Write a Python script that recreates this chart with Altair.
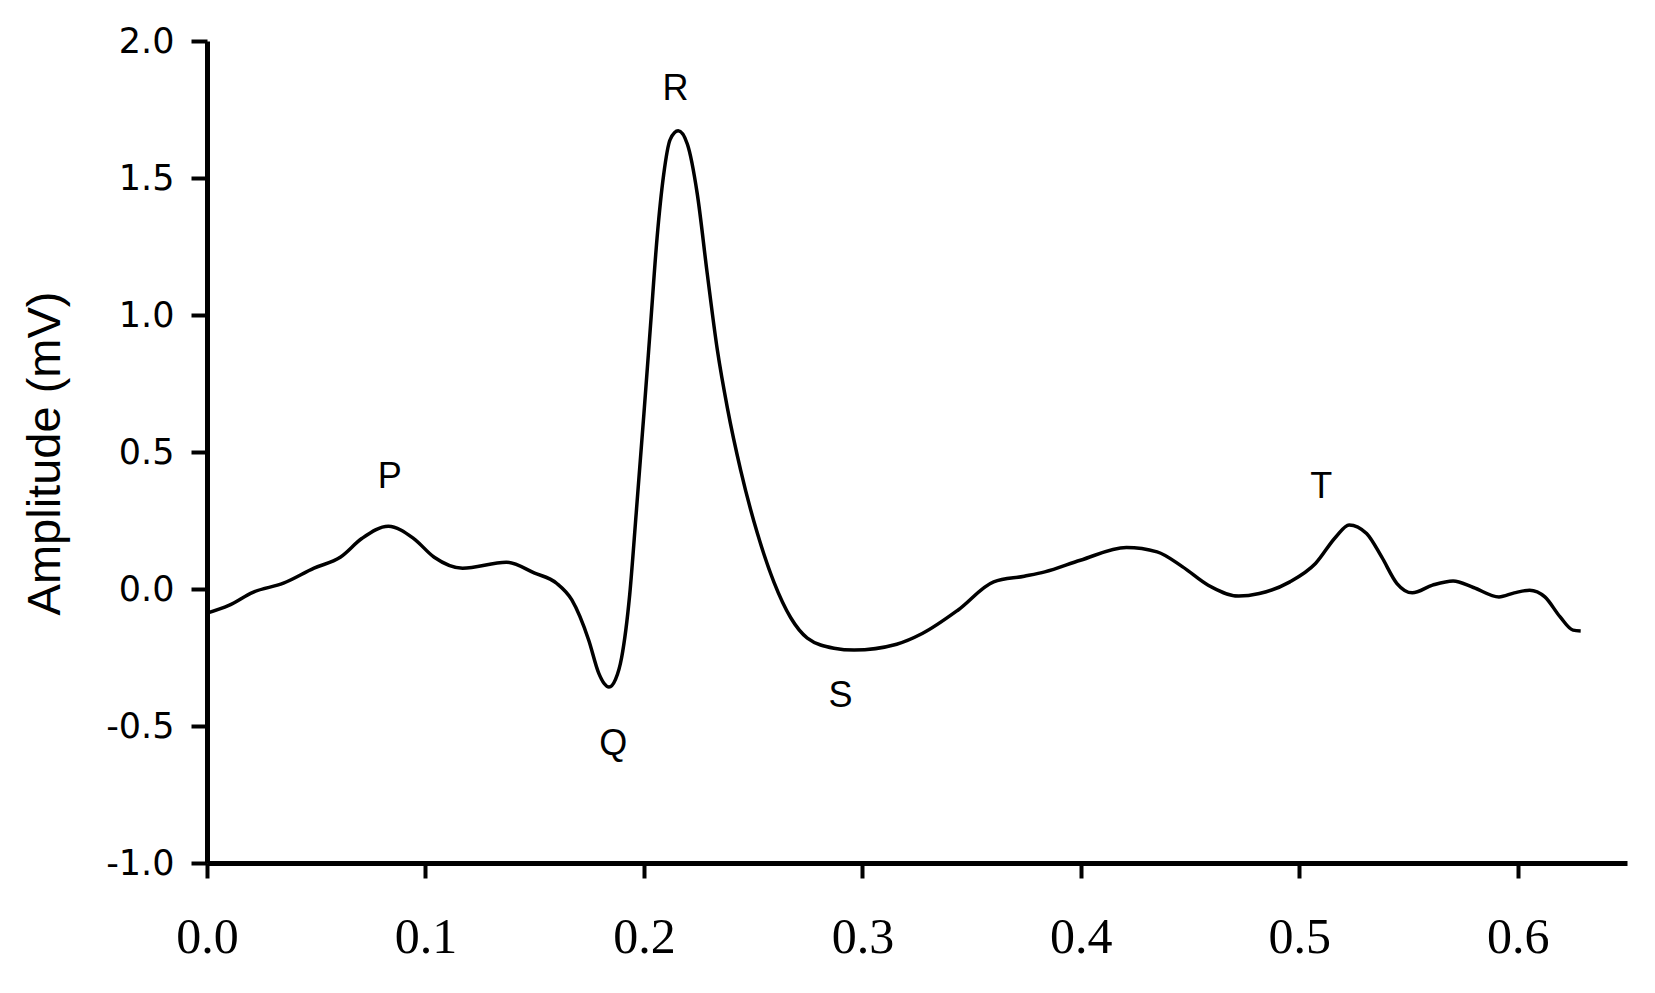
import altair as alt
import pandas as pd

# ECG trace (time in s, amplitude in mV)
time_s = [0.000, 0.010, 0.021, 0.035, 0.049, 0.061, 0.071, 0.083, 0.0945, 0.104,
          0.117, 0.137, 0.150, 0.160, 0.167, 0.1747, 0.1793, 0.1818, 0.184, 0.187,
          0.1898, 0.1935, 0.1965, 0.2000, 0.2030, 0.2060, 0.2090, 0.2120, 0.2157, 0.2199,
          0.2244, 0.2290, 0.2336, 0.2382, 0.2443, 0.2519, 0.2595, 0.2672, 0.2748, 0.2870,
          0.2962, 0.3157, 0.3274, 0.3437, 0.3601, 0.3741, 0.3835, 0.3998, 0.4209, 0.4349,
          0.4466, 0.4583, 0.4723, 0.4817, 0.4957, 0.5074, 0.5167, 0.5228, 0.5308, 0.5377,
          0.5447, 0.5517, 0.5610, 0.5704, 0.5797, 0.5914, 0.5984, 0.6054, 0.6124, 0.6194,
          0.6253, 0.6288]
amplitude = [-0.088, -0.060, -0.012, 0.021, 0.076, 0.116, 0.185, 0.229, 0.185, 0.116,
             0.076, 0.098, 0.058, 0.021, -0.040, -0.186, -0.307, -0.345, -0.358, -0.330,
             -0.250, -0.020, 0.280, 0.640, 0.960, 1.280, 1.510, 1.640, 1.672, 1.623,
             1.443, 1.150, 0.873, 0.661, 0.433, 0.204, 0.025, -0.105, -0.179, -0.216,
             -0.223, -0.2015, -0.1626, -0.0774, 0.026, 0.0467, 0.0625, 0.105, 0.1515, 0.1355,
             0.0808, 0.014, -0.026, -0.0166, 0.026, 0.093, 0.190, 0.234, 0.2025, 0.117,
             0.020, -0.014, 0.014, 0.0296, 0.0055, -0.0288, -0.014, -0.0044, -0.0288, -0.102,
             -0.150, -0.153]

# Wave labels
wave_names = ["P", "Q", "R", "S", "T"]
wave_x = [0.0837, 0.186, 0.2145, 0.290, 0.510]
wave_y = [0.408, -0.564, 1.826, -0.391, 0.373]

x_ticks = [0.0, 0.1, 0.2, 0.3, 0.4, 0.5, 0.6]
y_ticks = [-1.0, -0.5, 0.0, 0.5, 1.0, 1.5, 2.0]

ecg = pd.DataFrame({"t": time_s, "mv": amplitude})
waves = pd.DataFrame({"t": wave_x, "mv": wave_y, "name": wave_names})

x_scale = alt.Scale(domain=[0, 0.65], nice=False, zero=False)
y_scale = alt.Scale(domain=[-1, 2], nice=False, zero=False)

x_axis = alt.Axis(
    values=x_ticks, format=".1f", title=None, grid=False,
    labelFont="Liberation Serif", labelFontSize=50, labelColor="black",
    labelPadding=34, tickSize=15, tickWidth=4, tickColor="black",
    domainColor="black", domainWidth=5, labelFlush=False,
)
y_axis = alt.Axis(
    values=y_ticks, title="Amplitude (mV)", grid=False,
    labelExpr="replace(format(datum.value, '.1f'), '\u2212', '-')",
    labelFont="DejaVu Sans", labelFontSize=35, labelColor="black",
    labelPadding=17, tickSize=16, tickWidth=4, tickColor="black",
    domainColor="black", domainWidth=5, labelFlush=False,
    titleFont="Liberation Sans", titleFontSize=47, titleFontWeight="normal",
    titleColor="black", titleAngle=-90, titleBaseline="alphabetic",
    titleAlign="center", titleX=-148, titleY=412,
)

line = alt.Chart(ecg).mark_line(
    color="black", strokeWidth=3.5, interpolate="monotone"
).encode(
    x=alt.X("t:Q", scale=x_scale, axis=x_axis),
    y=alt.Y("mv:Q", scale=y_scale, axis=y_axis),
)

labels = alt.Chart(waves).mark_text(
    font="Liberation Sans", fontSize=36, color="black",
    align="center", baseline="middle",
).encode(
    x=alt.X("t:Q", scale=x_scale),
    y=alt.Y("mv:Q", scale=y_scale),
    text="name:N",
)

chart = alt.layer(line, labels).properties(
    width=1420, height=822,
    autosize=alt.AutoSizeParams(type="none"),
    padding={"left": 199, "top": 33, "right": 20, "bottom": 100},
    background="white",
).configure_view(stroke=None)

chart.save("out.html", embed_options={"renderer": "svg", "actions": False})
